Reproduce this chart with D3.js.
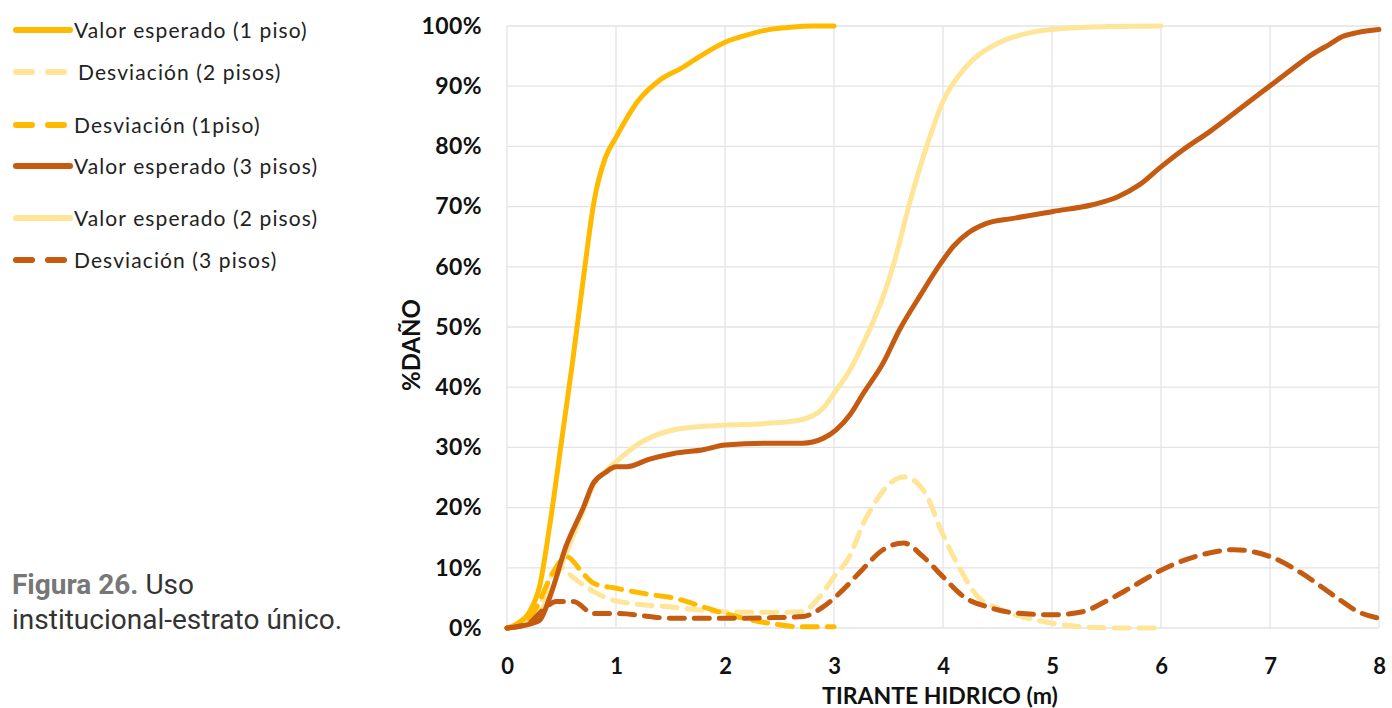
<!DOCTYPE html>
<html><head><meta charset="utf-8">
<script src="https://cdn.jsdelivr.net/npm/d3@7"></script>
<style>body{margin:0;background:#fff}svg{display:block}</style>
</head><body>
<svg id="c" width="1392" height="708"></svg>
<script>
// ---- data (x = tirante hídrico in m, y = % daño) ----
const xTicks = [0,1,2,3,4,5,6,7,8];
const yTicks = [0,10,20,30,40,50,60,70,80,90,100];

const val1X = [0,0.1,0.2,0.3,0.4,0.5,0.6,0.7,0.8,0.9,1.0,1.2,1.4,1.6,1.8,2.0,2.2,2.4,2.6,2.8,3.0];
const val1Y = [0,0.8,2.5,7,18,31,44,58,71,78,81.5,87.5,91,93,95.3,97.3,98.5,99.4,99.8,100,100];

const dev1X = [0,0.1,0.2,0.3,0.4,0.55,0.7,0.8,1.0,1.3,1.55,1.8,2.0,2.2,2.4,2.7,3.0];
const dev1Y = [0,0.3,1.5,4.5,8.5,11.8,9,7.4,6.6,5.6,4.9,3.5,2.4,1.5,0.8,0.2,0.2];

const val2X = [0,0.1,0.2,0.3,0.4,0.5,0.6,0.7,0.8,0.9,1.0,1.2,1.5,1.8,2.0,2.4,2.7,2.9,3.0,3.15,3.3,3.45,3.55,3.7,3.85,4.0,4.2,4.5,4.8,5.1,5.5,6.0];
const val2Y = [0,0.3,1,2.5,6,10.5,15,19.5,24,26,27.6,30.5,32.8,33.5,33.7,34,34.6,36.5,39,43,48.5,55,60.6,71,80,87.5,93,97.1,98.9,99.6,99.9,100];

const dev2X = [0,0.2,0.3,0.4,0.5,0.6,0.8,1.0,1.5,2.0,2.4,2.7,2.87,3.0,3.14,3.27,3.4,3.5,3.64,3.75,3.85,3.98,4.13,4.32,4.5,4.63,4.94,5.28,5.6,6.0];
const dev2Y = [0,0.8,3.5,8.5,10,8.5,6,4.5,3.5,2.7,2.6,2.7,5.2,8.5,11.8,17.4,21.5,23.8,25.1,24.3,22,16.3,10.7,5.2,3.3,2.4,1,0.2,0,0];

const val3X = [0,0.1,0.2,0.3,0.4,0.54,0.7,0.79,0.9,1.0,1.1,1.3,1.53,1.8,2.0,2.4,2.71,2.9,3.02,3.15,3.27,3.45,3.6,3.8,3.98,4.1,4.23,4.4,4.63,5.01,5.37,5.6,5.8,6.0,6.2,6.45,6.67,7.01,7.2,7.38,7.55,7.66,7.8,8.0];
const val3Y = [0,0.2,0.6,1.3,5.5,13.5,20,24,25.8,26.8,26.8,28,29,29.6,30.4,30.7,30.7,31.5,32.9,35.5,39,44,49.5,55.5,60.6,63.5,65.6,67.2,68,69.2,70.3,71.6,73.6,76.6,79.4,82.5,85.5,90.2,92.8,95.2,97,98.2,98.9,99.4];

const dev3X = [0,0.2,0.33,0.45,0.61,0.79,1.0,1.53,2.01,2.4,2.71,2.9,3.08,3.27,3.45,3.64,3.82,4.0,4.19,4.41,4.66,5.01,5.28,5.49,5.74,6.0,6.36,6.67,7.01,7.29,7.6,7.81,8.0];
const dev3Y = [0,0.8,3,4.4,4.4,2.4,2.4,1.6,1.6,1.7,1.9,3.5,6.3,9.9,13,14.1,11.8,8.5,5.2,3.5,2.5,2.2,2.7,4.4,6.9,9.6,12.1,13,11.8,9.1,5.2,2.7,1.6];

const C_GOLD = "#FFBA00", C_LIGHT = "#FFE597", C_BROWN = "#C55A11";

const seriesDraw = [
  {name:"Valor esperado (2 pisos)", x:val2X, y:val2Y, color:C_LIGHT, dash:null},
  {name:"Desviación (2 pisos)", x:dev2X, y:dev2Y, color:C_LIGHT, dash:"15,10"},
  {name:"Valor esperado (1 piso)", x:val1X, y:val1Y, color:C_GOLD, dash:null},
  {name:"Desviación (1piso)", x:dev1X, y:dev1Y, color:C_GOLD, dash:"15,10"},
  {name:"Valor esperado (3 pisos)", x:val3X, y:val3Y, color:C_BROWN, dash:null},
  {name:"Desviación (3 pisos)", x:dev3X, y:dev3Y, color:C_BROWN, dash:"15,10"}
];
const legendItems = [
  {name:"Valor esperado (1 piso)", color:C_GOLD, dash:null},
  {name:"Desviación (2 pisos)", color:C_LIGHT, dash:"16,16"},
  {name:"Desviación (1piso)", color:C_GOLD, dash:"16,16"},
  {name:"Valor esperado (3 pisos)", color:C_BROWN, dash:null},
  {name:"Valor esperado (2 pisos)", color:C_LIGHT, dash:null},
  {name:"Desviación (3 pisos)", color:C_BROWN, dash:"16,16"}
];

const svg = d3.select("#c");
const x = d3.scaleLinear().domain([0,8]).range([507,1379]);
const y = d3.scaleLinear().domain([0,100]).range([628,26]);

// grid
const g = svg.append("g");
g.selectAll(".hg").data(yTicks).enter().append("line")
  .attr("x1",x(0)).attr("x2",x(8)).attr("y1",d=>y(d)).attr("y2",d=>y(d))
  .attr("stroke","#e3e3e3").attr("stroke-width",1.3);
g.selectAll(".vg").data(xTicks).enter().append("line")
  .attr("x1",d=>x(d)).attr("x2",d=>x(d)).attr("y1",y(0)).attr("y2",y(100))
  .attr("stroke","#e3e3e3").attr("stroke-width",1.3);

// axes (labels only)
const yAxis = d3.axisLeft(y).tickValues(yTicks).tickFormat(d=>d+"%").tickSize(0).tickPadding(25);
const ya = svg.append("g").attr("transform",`translate(${x(0)},0)`).call(yAxis);
ya.select(".domain").remove();
ya.selectAll("text").attr("font-family","Lato, sans-serif").attr("font-weight","bold").attr("font-size",23)
  .attr("letter-spacing","0.4px").attr("fill","#111");

const xAxis = d3.axisBottom(x).tickValues(xTicks).tickFormat(d3.format("d")).tickSize(0).tickPadding(30);
const xa = svg.append("g").attr("transform",`translate(0,${y(0)})`).call(xAxis);
xa.select(".domain").remove();
xa.selectAll("text").attr("font-family","Lato, sans-serif").attr("font-weight","bold").attr("font-size",22).attr("fill","#111");

svg.append("text").attr("x",940).attr("y",704).attr("text-anchor","middle")
  .attr("font-family","Lato, sans-serif").attr("font-weight","bold").attr("font-size",23).attr("fill","#111")
  .text("TIRANTE HIDRICO (m)");
svg.append("text").attr("transform","translate(420,345) rotate(-90)").attr("text-anchor","middle")
  .attr("font-family","Lato, sans-serif").attr("font-weight","bold").attr("font-size",24).attr("fill","#111")
  .text("%DAÑO");

// series
const line = d3.line().x(d=>x(d[0])).y(d=>y(d[1])).curve(d3.curveMonotoneX);
seriesDraw.forEach(s=>{
  const pts = s.x.map((v,i)=>[v,s.y[i]]);
  svg.append("path").attr("d",line(pts)).attr("fill","none")
    .attr("stroke",s.color).attr("stroke-width",5)
    .attr("stroke-linecap","round").attr("stroke-linejoin","round")
    .attr("stroke-dasharray",s.dash);
});

// legend
const legY = [30,72,125,166,218,260];
const lg = svg.append("g");
legendItems.forEach((it,i)=>{
  lg.append("line").attr("x1",16).attr("x2",70).attr("y1",legY[i]).attr("y2",legY[i])
    .attr("stroke",it.color).attr("stroke-width",6).attr("stroke-linecap","round")
    .attr("stroke-dasharray",it.dash);
  lg.append("text").attr("x",i===1?78:74).attr("y",legY[i]+8)
    .attr("font-family","Lato, sans-serif").attr("font-size",21).attr("letter-spacing","1.1px").attr("fill","#222")
    .text(it.name);
});

// caption
const cap = svg.append("text").attr("x",12).attr("y",594)
  .attr("font-family","Roboto, sans-serif").attr("font-size",28);
cap.append("tspan").attr("font-weight","bold").attr("fill","#777").text("Figura 26.");
cap.append("tspan").attr("fill","#333").text(" Uso");
svg.append("text").attr("x",12).attr("y",629)
  .attr("font-family","Roboto, sans-serif").attr("font-size",28).attr("fill","#333")
  .text("institucional-estrato único.");
</script>
</body></html>
